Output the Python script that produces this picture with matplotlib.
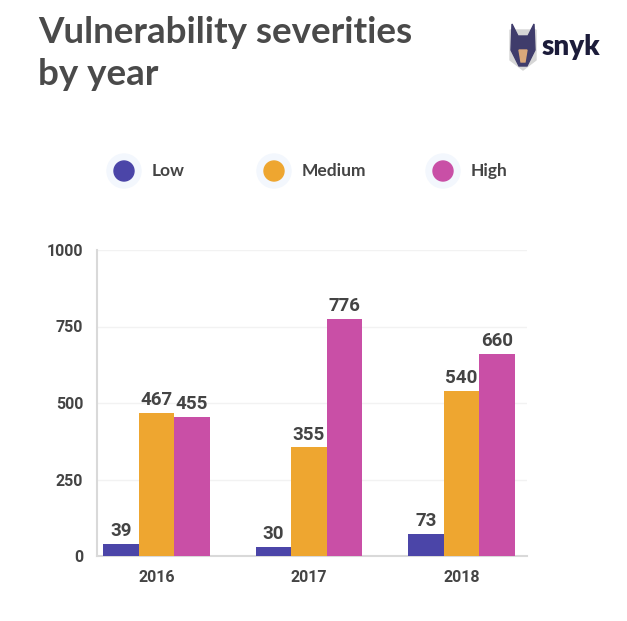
import matplotlib.pyplot as plt
from matplotlib.patches import Circle, Polygon
import numpy as np

years = ["2016", "2017", "2018"]
severities = ["Low", "Medium", "High"]
low = [39, 30, 73]
medium = [467, 355, 540]
high = [455, 776, 660]
colors = ["#4b45a8", "#eea630", "#c94fa6"]
y_ticks = [0, 250, 500, 750, 1000]

text_color = "#444444"

fig = plt.figure(figsize=(6.27, 6.21), dpi=100)
fig.patch.set_facecolor("white")

# chart area
ax = fig.add_axes([97 / 627, 1 - 556 / 621, (527 - 97) / 627, (556 - 250) / 621])
x = np.arange(len(years))
width = 0.233
for i, (vals, col) in enumerate(zip([low, medium, high], colors)):
    pos = x + (i - 1) * width
    ax.bar(pos, vals, width=width, color=col, zorder=3)
    for p, v in zip(pos, vals):
        ax.text(p, v + 12, str(v), ha="center", va="bottom", fontsize=13.5,
                fontweight="bold", color=text_color, family="Roboto")

ax.set_xlim(-0.39, 2.43)
ax.set_ylim(0, 1000)
ax.set_yticks(y_ticks)
ax.set_xticks(x)
ax.set_xticklabels(years)
ax.grid(axis="y", color="#f2f2f2", linewidth=1, zorder=0)
for s in ["top", "right"]:
    ax.spines[s].set_visible(False)
for s in ["left", "bottom"]:
    ax.spines[s].set_color("#d9d9d9")
    ax.spines[s].set_linewidth(1.5)
ax.tick_params(length=0, pad=10, labelcolor=text_color)
for lbl in ax.get_xticklabels() + ax.get_yticklabels():
    lbl.set_family("Roboto")
    lbl.set_fontweight("bold")
    lbl.set_fontsize(11.5)

# title
fig.text(38 / 627, 1 - 16 / 621, "Vulnerability severities\nby year", ha="left", va="top",
         fontsize=26.5, fontweight="bold", color="#4a4a4a", family="Lato",
         linespacing=1.32)

# legend with haloed dots
leg = fig.add_axes([0, 0, 1, 1])
leg.set_xlim(0, 627)
leg.set_ylim(621, 0)
leg.axis("off")
dot_x = [124, 274, 443]
for dx, name, col in zip(dot_x, severities, colors):
    leg.add_patch(Circle((dx, 171), 17, color="#f3f7fd", zorder=1))
    leg.add_patch(Circle((dx, 171), 10, color=col, zorder=2))
    leg.text(dx + 28, 171, name, ha="left", va="center", fontsize=12.5,
             fontweight="bold", color=text_color, family="Lato")

# snyk logo
shield = Polygon([(510, 30), (536, 30), (536, 60), (523, 70), (510, 60)],
                 closed=True, color="#d6d6d6", zorder=1)
head = Polygon([(512, 24), (518, 36), (528, 36), (534, 24), (535, 50), (527, 66),
                (519, 66), (511, 50)], closed=True, color="#3f3c6b", zorder=2)
snout = Polygon([(519, 50), (527, 50), (525, 62), (521, 62)], closed=True,
                color="#d9a77a", zorder=3)
for patch in [shield, head, snout]:
    leg.add_patch(patch)
leg.text(542, 47, "snyk", ha="left", va="center", fontsize=20, fontweight="heavy",
         color="#1c1c3a", family="Lato")

fig.savefig("out.png", dpi=100)
